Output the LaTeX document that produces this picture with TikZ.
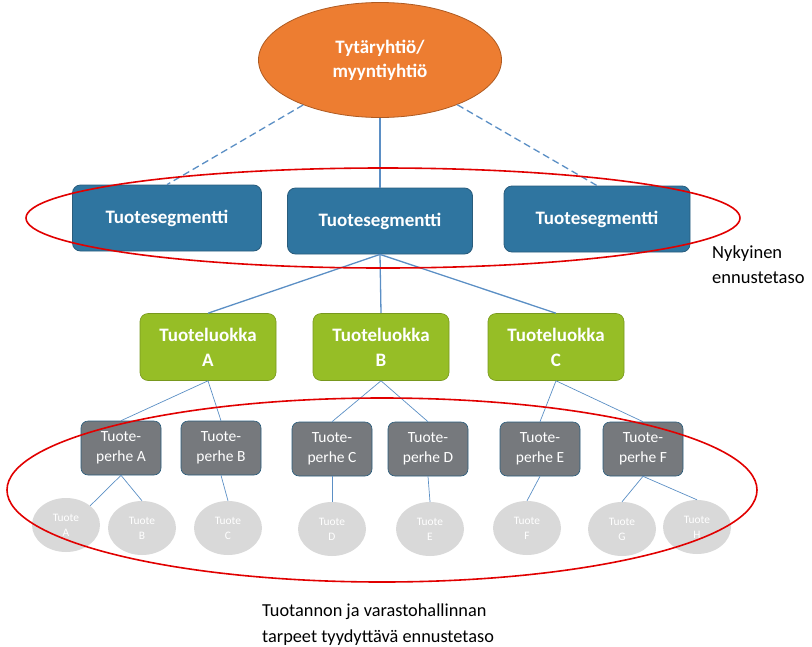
\documentclass[tikz,border=0pt]{standalone}
\usepackage{fontspec}
\setmainfont{Carlito}
\usetikzlibrary{shapes.geometric}

\definecolor{emoyhtio}{RGB}{237,125,49}
\definecolor{emoreuna}{RGB}{174,90,33}
\definecolor{segsini}{RGB}{47,117,160}
\definecolor{segreuna}{RGB}{41,92,124}
\definecolor{luokkavihrea}{RGB}{150,190,38}
\definecolor{perheharmaa}{RGB}{118,121,125}
\definecolor{tuoteharmaa}{RGB}{217,217,217}
\definecolor{viiva}{RGB}{91,143,197}
\definecolor{rajaus}{RGB}{225,0,0}

\begin{document}
\begin{tikzpicture}[x=1pt, y=-1pt,
    emo/.style={ellipse, draw=emoreuna, fill=emoyhtio, line width=0.8pt, inner sep=0pt,
      minimum width=243pt, minimum height=115pt, text=white, align=center,
      font=\bfseries\fontsize{19}{24}\selectfont},
    segmentti/.style={draw=segreuna, fill=segsini, rounded corners=8pt, line width=0.8pt,
      minimum height=66pt, text=white, font=\bfseries\fontsize{19}{24}\selectfont},
    luokka/.style={draw=luokkavihrea!80!black, fill=luokkavihrea, rounded corners=8pt, line width=0.6pt,
      minimum width=136pt, minimum height=67pt, text=white, align=center,
      font=\bfseries\fontsize{19}{25}\selectfont},
    perhe/.style={draw=segreuna, fill=perheharmaa, rounded corners=7pt, line width=0.6pt,
      minimum width=80pt, minimum height=54pt, text=white, align=center,
      font=\fontsize{15.5}{19.5}\selectfont},
    tuote/.style={ellipse, fill=tuoteharmaa, inner sep=0pt, minimum width=68pt,
      minimum height=54pt, text=white, align=center, font=\fontsize{11.4}{15}\selectfont},
    yhteys/.style={draw=viiva, line width=1.3pt},
    ohut/.style={draw=viiva, line width=0.7pt},
    rajaus/.style={draw=rajaus, line width=1.6pt}]
  \useasboundingbox (0,0) rectangle (812,646);

  % ylin taso
  \node[emo] (yhtio) at (380,60) {Tytäryhtiö/\\myyntiyhtiö};

  % tuotesegmentit
  \node[segmentti, minimum width=189pt] (segA) at (167,218) {Tuotesegmentti};
  \node[segmentti, minimum width=185pt] (segB) at (380,221) {Tuotesegmentti};
  \node[segmentti, minimum width=186pt] (segC) at (597,219) {Tuotesegmentti};

  % tuoteluokat
  \node[luokka] (luokkaA) at (208,347) {Tuoteluokka\\A};
  \node[luokka] (luokkaB) at (381,347) {Tuoteluokka\\B};
  \node[luokka] (luokkaC) at (556,347) {Tuoteluokka\\C};

  % tuoteperheet
  \node[perhe] (perheA) at (121,448) {Tuote-\\perhe A};
  \node[perhe] (perheB) at (221,448) {Tuote-\\perhe B};
  \node[perhe] (perheC) at (332,449) {Tuote-\\perhe C};
  \node[perhe] (perheD) at (428,449) {Tuote-\\perhe D};
  \node[perhe] (perheE) at (540,449) {Tuote-\\perhe E};
  \node[perhe] (perheF) at (643,449) {Tuote-\\perhe F};

  % tuotteet
  \node[tuote] (tuoteA) at (66,525) {Tuote\\A};
  \node[tuote] (tuoteB) at (142,528) {Tuote\\B};
  \node[tuote] (tuoteC) at (228,528) {Tuote\\C};
  \node[tuote] (tuoteD) at (332,529) {Tuote\\D};
  \node[tuote] (tuoteE) at (430,529) {Tuote\\E};
  \node[tuote] (tuoteF) at (527,528) {Tuote\\F};
  \node[tuote] (tuoteG) at (622,529) {Tuote\\G};
  \node[tuote] (tuoteH) at (697,527) {Tuote\\H};

  % yhteydet
  \draw[yhteys, dashed, dash pattern=on 7pt off 4pt] (yhtio) -- (segA.north);
  \draw[yhteys, dashed, dash pattern=on 7pt off 4pt] (yhtio) -- (segC.north);
  \draw[yhteys] (yhtio) -- (segB);
  \draw[yhteys] (segB.south) -- (luokkaA.north);
  \draw[yhteys] (segB.south) -- (luokkaB.north);
  \draw[yhteys] (segB.south) -- (luokkaC.north);

  \draw[ohut] (luokkaA.south) -- (perheA.north);
  \draw[ohut] (luokkaA.south) -- (perheB.north);
  \draw[ohut] (luokkaB.south) -- (perheC.north);
  \draw[ohut] (luokkaB.south) -- (perheD.north);
  \draw[ohut] (luokkaC.south) -- (perheE.north);
  \draw[ohut] (luokkaC.south) -- (perheF.north);

  \draw[ohut] (perheA.south) -- (tuoteA.north east);
  \draw[ohut] (perheA.south) -- (tuoteB.north);
  \draw[ohut] (perheB.south) -- (tuoteC.north);
  \draw[ohut] (perheC.south) -- (tuoteD.north);
  \draw[ohut] (perheD.south) -- (tuoteE.north);
  \draw[ohut] (perheE.south) -- (tuoteF.north);
  \draw[ohut] (perheF.south) -- (tuoteG.north);
  \draw[ohut] (perheF.south) -- (tuoteH.north);

  % ennustetasot
  \draw[rajaus] (383,218) ellipse (357 and 50);
  \draw[rajaus] (382,490) ellipse (375 and 92);

  \node[anchor=base west, align=left, inner sep=0pt, font=\fontsize{18.5}{25}\selectfont]
    (nykyinen) at (712,283) {Nykyinen\\ennustetaso};
  \node[anchor=base west, align=left, inner sep=0pt, font=\fontsize{18.3}{26}\selectfont]
    (tavoite) at (262,642) {Tuotannon ja varastohallinnan\\tarpeet tyydyttävä ennustetaso};
\end{tikzpicture}
\end{document}
